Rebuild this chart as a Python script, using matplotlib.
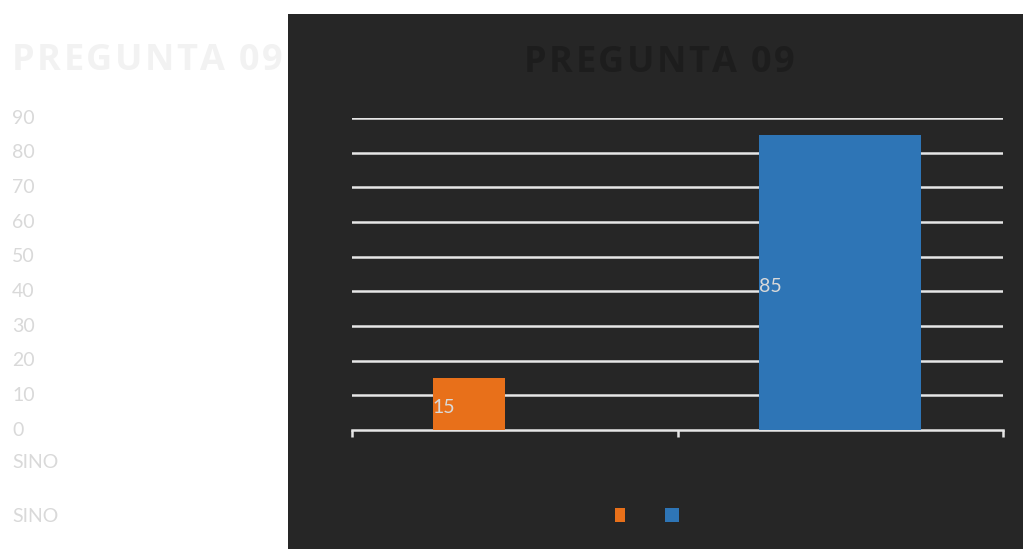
import matplotlib
matplotlib.use("Agg")
import matplotlib.pyplot as plt
from matplotlib.patches import Rectangle
from matplotlib.transforms import blended_transform_factory

# data
categories = ["SI", "NO"]
si_values = [15, 0]
no_values = [0, 85]
y_ticks = [0, 10, 20, 30, 40, 50, 60, 70, 80, 90]
title = "PREGUNTA 09"

W, H = 1023, 549
fig = plt.figure(figsize=(W / 100, H / 100), dpi=100)
fig.patch.set_facecolor("white")


def spaced_text(x_px, y_px, s, track, **kw):
    # draw text letter by letter to get the wide letter spacing
    r = fig.canvas.get_renderer()
    x = x_px
    for ch in s:
        t = fig.text(x / W, 1 - y_px / H, ch, ha="left", va="center", **kw)
        w = t.get_window_extent(renderer=r).width
        x += w + track


# dark panel behind the chart
fig.patches.append(Rectangle((288 / W, 0), 1 - 288 / W, 1 - 14 / H,
                             transform=fig.transFigure, facecolor="#262626",
                             edgecolor="none", zorder=0))

ax = fig.add_axes([352 / W, 1 - 430 / H, (1003 - 352) / W, (430 - 118) / H])
ax.set_zorder(2)
ax.set_facecolor("none")
ax.set_xlim(-0.5, 1.5)
ax.set_ylim(0, 90)

x = list(range(len(categories)))
orange = ax.bar([i - 0.141 for i in x], si_values, width=0.221,
                color="#e8701a", zorder=3)
blue = ax.bar(x, no_values, width=0.498, color="#2e75b6", zorder=3)

for bars, vals in ((orange, si_values), (blue, no_values)):
    for b, v in zip(bars, vals):
        if v:
            ax.text(b.get_x(), v / 2 - 1, str(v), ha="left", va="center",
                    fontsize=14, color="#d9d9d9", family="Lato", zorder=4)

for v in y_ticks[1:]:
    ax.axhline(v, color="#e6e6e6", lw=1.8, zorder=1)

for s in ("top", "right", "left"):
    ax.spines[s].set_visible(False)
ax.spines["bottom"].set_color("#e6e6e6")
ax.spines["bottom"].set_linewidth(1.8)
ax.set_xticks([-0.5, 0.5, 1.5])
ax.set_xticklabels([])
ax.tick_params(axis="x", length=5, width=1.8, color="#e6e6e6")
ax.set_yticks([])

# y labels sit far to the left, on the white part
tr = blended_transform_factory(fig.transFigure, ax.transData)
for v in y_ticks:
    fig.text(12 / W, v, str(v), transform=tr, ha="left", va="center",
             fontsize=14, color="#d9d9d9", family="Lato")

fig.text(12 / W, 1 - 462 / H, "".join(categories), ha="left", va="center",
         fontsize=14, color="#d9d9d9", family="Lato")
fig.text(12 / W, 1 - 516 / H, "".join(categories), ha="left", va="center",
         fontsize=14, color="#d9d9d9", family="Lato")

# titles
spaced_text(12, 61, title, 2.5, fontsize=26, fontweight="bold",
            color="#f2f2f2", family="Open Sans")
spaced_text(524, 63, title, 2.5, fontsize=26, fontweight="bold",
            color="#1d1d1d", family="Open Sans")

# legend markers
fig.patches.append(Rectangle((615 / W, 1 - 522 / H), 10 / W, 14 / H,
                             transform=fig.transFigure, facecolor="#e8701a",
                             edgecolor="none", zorder=2))
fig.patches.append(Rectangle((665 / W, 1 - 522 / H), 14 / W, 14 / H,
                             transform=fig.transFigure, facecolor="#2e75b6",
                             edgecolor="none", zorder=2))

fig.savefig("out.png", dpi=100, facecolor=fig.get_facecolor())
